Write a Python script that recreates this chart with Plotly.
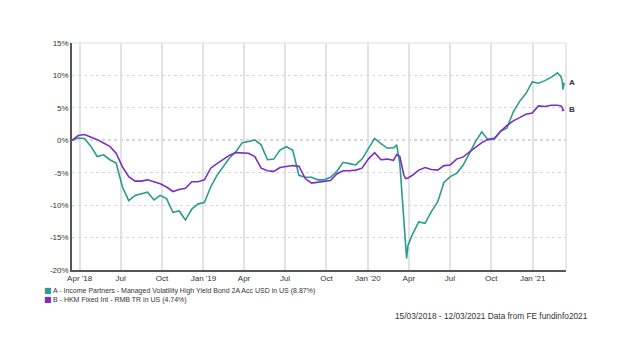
import plotly.graph_objects as go

dates = [
    "2018-03-15", "2018-03-29", "2018-04-12", "2018-04-26", "2018-05-10", "2018-05-24",
    "2018-06-07", "2018-06-21", "2018-07-05", "2018-07-19", "2018-08-02", "2018-08-16",
    "2018-08-30", "2018-09-13", "2018-09-27", "2018-10-11", "2018-10-25", "2018-11-08",
    "2018-11-22", "2018-12-06", "2018-12-20", "2019-01-03", "2019-01-17", "2019-01-31",
    "2019-02-14", "2019-02-28", "2019-03-14", "2019-03-28", "2019-04-11", "2019-04-25",
    "2019-05-09", "2019-05-23", "2019-06-06", "2019-06-20", "2019-07-04", "2019-07-18",
    "2019-08-01", "2019-08-15", "2019-08-29", "2019-09-12", "2019-09-26", "2019-10-10",
    "2019-10-24", "2019-11-07", "2019-11-21", "2019-12-05", "2019-12-19", "2020-01-02",
    "2020-01-16", "2020-01-30", "2020-02-13", "2020-02-27", "2020-03-05", "2020-03-12",
    "2020-03-17", "2020-03-21", "2020-03-25", "2020-03-27", "2020-03-30", "2020-04-09",
    "2020-04-23", "2020-05-07", "2020-05-21", "2020-06-04", "2020-06-18", "2020-07-02",
    "2020-07-16", "2020-07-30", "2020-08-13", "2020-08-27", "2020-09-10", "2020-09-24",
    "2020-10-08", "2020-10-22", "2020-11-05", "2020-11-19", "2020-12-03", "2020-12-17",
    "2020-12-31", "2021-01-14", "2021-01-28", "2021-02-11", "2021-02-25", "2021-03-05",
    "2021-03-08", "2021-03-09", "2021-03-12",
]

series_a = [
    0.0, 0.36, 0.26, -0.94, -2.5, -2.24, -3.0, -3.5, -7.2, -9.3, -8.5, -8.3,
    -8.0, -9.2, -8.5, -9.0, -11.1, -10.9, -12.3, -10.6, -9.8, -9.6, -7.2, -5.4,
    -4.1, -2.7, -1.75, -0.36, -0.2, 0.05, -0.7, -3.0, -2.9, -1.5, -1.0, -1.5,
    -5.4, -5.7, -5.7, -6.1, -6.1, -5.7, -4.8, -3.4, -3.6, -3.8, -2.9, -1.2,
    0.3, -0.5, -1.2, -1.2, -0.7, -3.6,
    -8.7, -12.3, -17.5, -18.2, -16.2, -14.5,
    -12.6, -12.8, -11.0, -9.5, -6.5, -5.6,
    -5.1, -3.9, -2.1, -0.2, 1.3, 0.05,
    0.2, 1.4, 1.9, 4.4, 6.0, 7.2,
    9.0, 8.8, 9.2, 9.7, 10.4, 9.8,
    9.0, 7.8, 8.87,
]

series_b = [
    0.0, 0.73, 0.89, 0.52, 0.1, -0.42, -0.94, -2.0, -4.1, -5.6, -6.3, -6.3,
    -6.1, -6.4, -6.7, -7.2, -7.9, -7.6, -7.4, -6.4, -6.4, -6.1, -4.3, -3.6,
    -3.0, -2.3, -1.9, -2.0, -2.0, -2.5, -4.3, -4.7, -4.8, -4.2, -4.0, -3.9,
    -4.0, -5.9, -6.6, -6.5, -6.4, -6.2, -5.2, -4.7, -4.7, -4.6, -4.3, -2.9,
    -1.9, -3.0, -2.9, -3.1, -2.2, -2.5,
    -4.1, -5.4, -5.9, -5.9, -5.8, -5.4,
    -4.6, -4.2, -4.5, -4.6, -3.9, -3.8,
    -2.9, -2.6, -1.9, -1.1, -0.35, 0.15,
    0.3, 1.4, 2.3, 3.0, 3.5, 4.0,
    4.2, 5.3, 5.2, 5.4, 5.4, 5.3,
    5.0, 4.6, 4.74,
]

tick_dates = ["2018-04-01", "2018-07-01", "2018-10-01", "2019-01-01", "2019-04-01",
              "2019-07-01", "2019-10-01", "2020-01-01", "2020-04-01", "2020-07-01",
              "2020-10-01", "2021-01-01"]
tick_labels = ["Apr '18", "Jul", "Oct", "Jan '19", "Apr", "Jul", "Oct", "Jan '20",
               "Apr", "Jul", "Oct", "Jan '21"]
y_ticks = [-20, -15, -10, -5, 0, 5, 10, 15]
y_labels = ["-20%", "-15%", "-10%", "-5%", "0%", "5%", "10%", "15%"]

name_a = "A - Income Partners - Managed Volatility High Yield Bond 2A Acc USD in US (8.87%)"
name_b = "B - HKM Fixed Int - RMB TR in US (4.74%)"
footer = "15/03/2018 - 12/03/2021 Data from FE fundinfo2021"

COL_A = "#2a9d8a"
COL_B = "#7b2fc2"
FONT = "Liberation Sans, Arial, sans-serif"
TXT = "#333333"

fig = go.Figure()
fig.add_trace(go.Scatter(x=dates, y=series_a, mode="lines", line=dict(color=COL_A, width=1.6),
                         name=name_a, showlegend=False))
fig.add_trace(go.Scatter(x=dates, y=series_b, mode="lines", line=dict(color=COL_B, width=1.6),
                         name=name_b, showlegend=False))

# zero line (dotted)
fig.add_shape(type="line", xref="paper", x0=0, x1=1, yref="y", y0=0, y1=0,
              line=dict(color="#444444", width=1, dash="dot"), layer="below")
# right and top borders
fig.add_shape(type="line", xref="paper", x0=1, x1=1, yref="paper", y0=0, y1=1,
              line=dict(color="#d0d0d0", width=1))
fig.add_shape(type="line", xref="paper", x0=0, x1=1, yref="paper", y0=1, y1=1,
              line=dict(color="#e0e0e0", width=1))

fig.add_annotation(x=dates[-1], y=series_a[-1], text="<b>A</b>", showarrow=False,
                   xanchor="left", xshift=3, font=dict(size=8, color=TXT, family=FONT))
fig.add_annotation(x=dates[-1], y=series_b[-1], text="<b>B</b>", showarrow=False,
                   xanchor="left", xshift=3, font=dict(size=8, color=TXT, family=FONT))

# legend rows
for row, (col, label) in enumerate([(COL_A, name_a), (COL_B, name_b)]):
    yy = -0.0925 - row * 0.0396
    fig.add_annotation(xref="paper", yref="paper", x=-0.061, y=yy, xanchor="left",
                       yanchor="middle", text="■", showarrow=False,
                       font=dict(size=8, color=col, family="DejaVu Sans"))
    fig.add_annotation(xref="paper", yref="paper", x=-0.042, y=yy, xanchor="left",
                       yanchor="middle", text=label, showarrow=False,
                       font=dict(size=7, color=TXT, family=FONT))

fig.add_annotation(xref="paper", yref="paper", x=1.049, y=-0.2026, xanchor="right",
                   yanchor="middle", text=footer, showarrow=False,
                   font=dict(size=8.3, color=TXT, family=FONT))

fig.update_layout(
    width=632, height=352,
    margin=dict(l=64, r=74, t=35, b=90),
    paper_bgcolor="white", plot_bgcolor="white",
    showlegend=False,
    font=dict(family=FONT, size=8, color=TXT),
    xaxis=dict(range=["2018-03-15", "2021-03-16"], tickvals=tick_dates, ticktext=tick_labels,
               showgrid=True, gridcolor="#e2e2e2", gridwidth=1.5, showline=True,
               linecolor="#555555", linewidth=1.5, ticks="", tickfont=dict(size=8),
               zeroline=False),
    yaxis=dict(range=[-20, 15], tickvals=y_ticks, ticktext=y_labels, showgrid=True,
               gridcolor="#d8d8d8", griddash="dot", gridwidth=1, showline=True,
               linecolor="#555555", linewidth=1.5, ticks="", tickfont=dict(size=8),
               zeroline=False),
)

fig.write_html("out.html")
